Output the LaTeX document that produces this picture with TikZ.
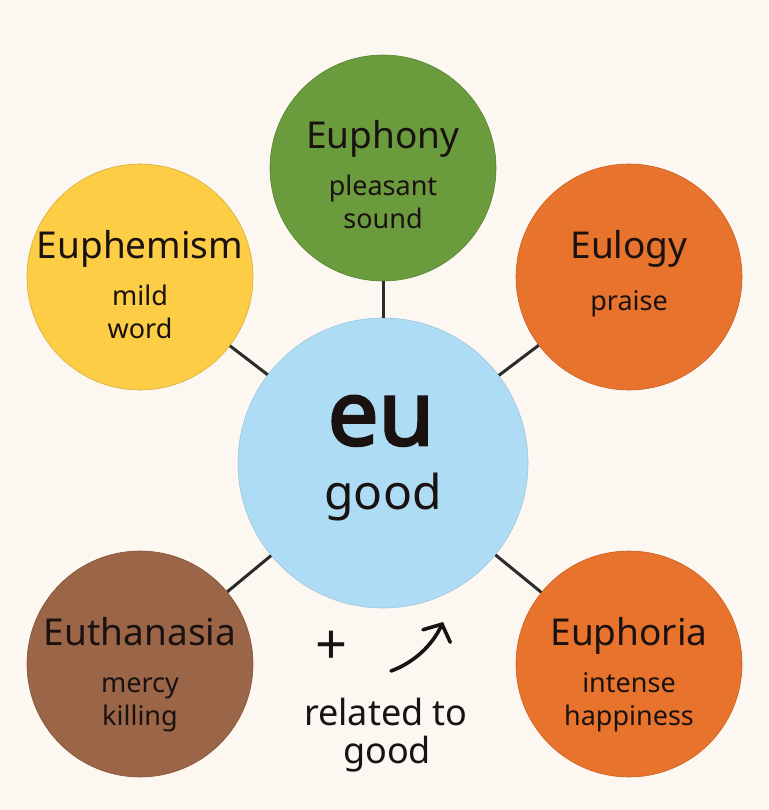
\documentclass[tikz,border=0pt]{standalone}
\usepackage{fontspec}
\setmainfont{Noto Sans}
\newfontfamily\rootfont{Noto Sans}[FakeBold=3]
\usetikzlibrary{arrows.meta}

\definecolor{paper}{HTML}{FDF7F2}
\definecolor{ink}{HTML}{1A1111}
\definecolor{spoke}{HTML}{2B2B2B}
\definecolor{rootblue}{HTML}{AEDCF4}
\definecolor{greenleaf}{HTML}{6A9B3D}
\definecolor{sunyellow}{HTML}{FCCD45}
\definecolor{warmorange}{HTML}{E8732C}
\definecolor{earthbrown}{HTML}{9B6547}

\begin{document}
\begin{tikzpicture}[x=1pt,y=-1pt]

	\tikzstyle root circle=[circle, minimum size=290pt, inner sep=0pt, fill=rootblue, draw=rootblue!90!black, line width=.6pt];
	\tikzstyle word circle=[circle, minimum size=226pt, inner sep=0pt, line width=.6pt];
	\tikzstyle title text=[anchor=base, inner sep=0pt, text=ink, font=\fontsize{37}{40}\selectfont];
	\tikzstyle meaning text=[anchor=base, inner sep=0pt, text=ink, font=\fontsize{27}{33}\selectfont];
	\tikzstyle note text=[anchor=base, inner sep=0pt, text=ink, font=\fontsize{36}{40}\selectfont];
	\tikzstyle spoke lines=[line width=3pt, color=spoke];
	\tikzstyle arrow line=[line width=3.6pt, color=ink, line cap=round, -{Straight Barb[length=13pt, width=30pt, line cap=round]}];

	\fill[paper] (0,0) rectangle (768,810);

	\node[root circle] (eu) at (383,463) {};
	\node[anchor=base, inner sep=0pt, text=ink, font=\rootfont\fontsize{90}{90}\selectfont] (eu-root) at (381,445) {eu};
	\node[anchor=base, inner sep=0pt, text=ink, font=\fontsize{48}{52}\selectfont] (eu-good) at (383,509) {good};

	% words built on eu
	\foreach \name/\x/\y/\col/\title/\first/\second in {
		phony/383/168/greenleaf/Euphony/pleasant/sound,
		phem/140/277/sunyellow/Euphemism/mild/word,
		than/140/664/earthbrown/Euthanasia/mercy/killing,
		phor/629/664/warmorange/Euphoria/intense/happiness}
	{
		\node[word circle, fill=\col, draw=\col!85!black] (\name) at (\x,\y) {};
		\draw[spoke lines] (eu) -- (\name);
		\node[title text] (\name-title) at (\x,\y-19) {\title};
		\node[meaning text] (\name-first) at (\x,\y+28) {\first};
		\node[meaning text] (\name-second) at (\x,\y+61) {\second};
	}

	\node[word circle, fill=warmorange, draw=warmorange!85!black] (logy) at (629,277) {};
	\draw[spoke lines] (eu) -- (logy);
	\node[title text] (logy-title) at (629,258) {Eulogy};
	\node[meaning text] (logy-first) at (629,310) {praise};

	% the note under the root
	\node[inner sep=0pt, text=ink, font=\fontsize{56}{56}\selectfont] (plus) at (332,648) {+};
	\node[note text] (note-a) at (386,725) {related to};
	\node[note text] (note-b) at (387,763) {good};

	\coordinate (bend-start) at (391,671);
	\coordinate (bend-end) at (443,622);
	\draw[arrow line] (bend-start) .. controls (413,663) and (432,646) .. (bend-end);

\end{tikzpicture}
\end{document}
